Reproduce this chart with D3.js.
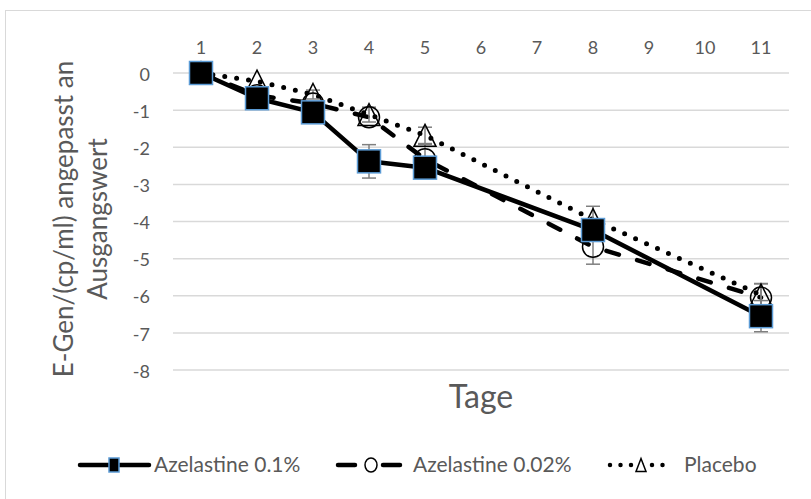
<!DOCTYPE html>
<html><head><meta charset="utf-8">
<script src="https://cdn.jsdelivr.net/npm/d3@7"></script>
<style>body{margin:0;background:#fff}svg{display:block}text{font-family:Lato,"Open Sans",sans-serif;fill:#595959}</style>
</head><body><div id="chart"></div>
<script>
const categories = [1,2,3,4,5,6,7,8,9,10,11];
const days = [1,2,3,4,5,8,11];
const aze01 = [0,-0.68,-1.06,-2.38,-2.55,-4.23,-6.55];
const aze002 = [0,-0.6,-0.82,-1.19,-2.32,-4.68,-6.05];
const placebo = [0,-0.22,-0.58,-1.12,-1.68,-3.95,-5.98];
const err01 = [0,0,0,0.45,0,0,0.42];
const err002 = [0,0,0,0,0.4,0.47,0.38];
const errPl = [0,0,0.12,0.2,0.22,0.36,0.3];
const yTicks = [0,-1,-2,-3,-4,-5,-6,-7,-8];
const yTickLabels = ["0","-1","-2","-3","-4","-5","-6","-7","-8"];
const seriesNames = ["Azelastine 0.1%","Azelastine 0.02%","Placebo"];
const yTitle = ["E-Gen/(cp/ml) angepasst an","Ausgangswert"];
const xTitle = "Tage";

const W=811,H=499;
const svg=d3.select("#chart").append("svg").attr("width",W).attr("height",H);
svg.append("rect").attr("width",W).attr("height",H).attr("fill","#fff");
svg.append("rect").attr("x",5.5).attr("y",10.5).attr("width",W).attr("height",H).attr("fill","none").attr("stroke","#d9d9d9").attr("stroke-width",1);

const x=d3.scaleBand().domain(categories).range([173,789]);
const cx=d=>x(d)+x.bandwidth()/2;
const y=d3.scaleLinear().domain([-8,0]).range([370,73]);

// gridlines
svg.append("g").selectAll("line").data(yTicks).join("line")
 .attr("x1",173).attr("x2",789).attr("y1",d=>y(d)).attr("y2",d=>y(d))
 .attr("stroke","#d9d9d9").attr("stroke-width",1.5);
// y labels
const yAxis=d3.axisLeft(y).tickValues(yTicks).tickSize(0).tickPadding(0).tickFormat((d,i)=>yTickLabels[i]);
const gy=svg.append("g").attr("transform","translate(150,0)").call(yAxis);
gy.select(".domain").remove();
gy.selectAll("text").attr("font-size",18).attr("fill","#595959").style("font-family","Lato").attr("dy","0.4em");
// x labels (top)
const xAxis=d3.axisTop(x).tickSize(0).tickPadding(0);
const gx=svg.append("g").attr("transform","translate(0,54)").call(xAxis);
gx.select(".domain").remove();
gx.selectAll("text").attr("font-size",18).attr("fill","#595959").style("font-family","Lato");

// titles
svg.append("text").attr("x",481).attr("y",408).attr("text-anchor","middle").attr("font-size",32).text(xTitle);
const yt=svg.append("text").attr("transform","translate(0,219) rotate(-90)").attr("text-anchor","middle").attr("font-size",26);
yt.append("tspan").attr("x",0).attr("y",73).text(yTitle[0]);
yt.append("tspan").attr("x",0).attr("y",107).text(yTitle[1]);

const series=[
 {vals:aze01,err:err01,dash:null,cap:"round",w:4.5},
 {vals:aze002,err:err002,dash:"13,19",cap:"round",w:4.5},
 {vals:placebo,err:errPl,dash:"0,12",cap:"round",w:5}
];
const line=d3.line().x((d,i)=>cx(days[i])).y(d=>y(d));
[2,1,0].forEach(k=>{
 const s=series[k];
 svg.append("path").attr("d",line(s.vals)).attr("fill","none").attr("stroke","#000")
  .attr("stroke-width",s.w).attr("stroke-linecap",s.cap).attr("stroke-linejoin","round")
  .attr("stroke-dasharray",s.dash);
});
// error bars
[2,1,0].forEach(k=>{
 const s=series[k];
 const g=svg.append("g").attr("stroke","#7f7f7f").attr("stroke-width",1.5);
 s.vals.forEach((v,i)=>{
  const e=s.err[i]; if(!e) return;
  const px=cx(days[i]);
  g.append("line").attr("x1",px).attr("x2",px).attr("y1",y(v+e)).attr("y2",y(v-e));
  [v+e,v-e].forEach(t=>g.append("line").attr("x1",px-7).attr("x2",px+7).attr("y1",y(t)).attr("y2",y(t)));
 });
});
// markers
const tri=(px,py,w,h)=>`M${px},${py-h/2}L${px+w/2},${py+h/2}L${px-w/2},${py+h/2}Z`;
svg.append("g").selectAll("path").data(placebo).join("path")
 .attr("d",(d,i)=>tri(cx(days[i]),y(d),22,22)).attr("fill","none").attr("stroke","#000").attr("stroke-width",1.5);
svg.append("g").selectAll("circle").data(aze002).join("circle")
 .attr("cx",(d,i)=>cx(days[i])).attr("cy",d=>y(d)).attr("r",10.5).attr("fill","none").attr("stroke","#000").attr("stroke-width",1.5);
svg.append("g").selectAll("rect").data(aze01).join("rect")
 .attr("x",(d,i)=>cx(days[i])-11.5).attr("y",d=>y(d)-11.5).attr("width",23).attr("height",23)
 .attr("fill","#000").attr("stroke","#5b9bd5").attr("stroke-width",1.5);

// legend
const ly=465;
const lg=svg.append("g");
lg.append("line").attr("x1",80).attr("x2",149).attr("y1",ly).attr("y2",ly).attr("stroke","#000").attr("stroke-width",4.5).attr("stroke-linecap","round");
lg.append("rect").attr("x",109).attr("y",ly-7).attr("width",10).attr("height",14).attr("fill","#000").attr("stroke","#5b9bd5").attr("stroke-width",1.5);
lg.append("text").attr("x",154).attr("y",ly).attr("dy","0.35em").attr("font-size",21).text(seriesNames[0]);
lg.append("line").attr("x1",338).attr("x2",400).attr("y1",ly).attr("y2",ly).attr("stroke","#000").attr("stroke-width",4.5).attr("stroke-linecap","round").attr("stroke-dasharray","17,28");
lg.append("ellipse").attr("cx",371).attr("cy",ly).attr("rx",6).attr("ry",7).attr("fill","#fff").attr("stroke","#000").attr("stroke-width",1.5);
lg.append("text").attr("x",413).attr("y",ly).attr("dy","0.35em").attr("font-size",21).text(seriesNames[1]);
lg.append("line").attr("x1",610).attr("x2",672).attr("y1",ly).attr("y2",ly).attr("stroke","#000").attr("stroke-width",4.5).attr("stroke-linecap","round").attr("stroke-dasharray","0,10.5");
lg.append("path").attr("d",tri(641,ly,10,13)).attr("fill","#fff").attr("stroke","#000").attr("stroke-width",1.5);
lg.append("text").attr("x",684).attr("y",ly).attr("dy","0.35em").attr("font-size",21).text(seriesNames[2]);
</script></body></html>
